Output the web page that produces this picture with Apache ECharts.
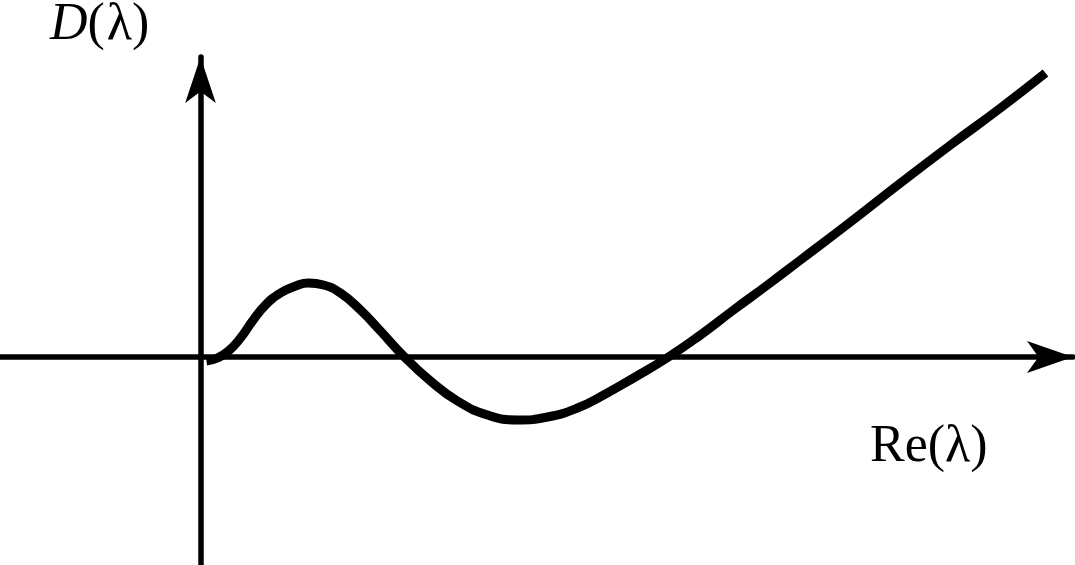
<!DOCTYPE html>
<html>
<head>
<meta charset="utf-8">
<script src="https://cdn.jsdelivr.net/npm/echarts@6/dist/echarts.min.js"></script>
<style>
html,body{margin:0;padding:0;background:#fff;}
#c{width:1075px;height:565px;}
</style>
</head>
<body>
<div id="c"></div>
<script>
// Curve D(λ) sampled along Re(λ)
const reLambda = [0.06,0.17,0.28,0.40,0.52,0.65,0.80,0.95,1.08,1.23,1.40,1.60,1.80,2.04,2.30,2.57,2.87,3.17,3.47,3.77,4.05,4.33,4.68,5.00,5.33,5.67,6.00,6.50,7.00,7.50,8.00,8.45];
const dLambda  = [-0.04,-0.01,0.06,0.19,0.36,0.52,0.64,0.71,0.74,0.72,0.64,0.47,0.26,0.00,-0.24,-0.44,-0.58,-0.63,-0.60,-0.51,-0.37,-0.21,0.00,0.22,0.47,0.72,0.97,1.35,1.74,2.12,2.49,2.84];
const yAxisLabel = 'D(λ)';
const xAxisLabel = 'Re(λ)';

const chart = echarts.init(document.getElementById('c'), null, {renderer: 'canvas'});
const axisLineStyle = {color: '#000', width: 5.5};
chart.setOption({
  animation: false,
  backgroundColor: '#fff',
  grid: {left: 0, right: 2, top: 57, bottom: 0, containLabel: false},
  xAxis: {
    type: 'value', min: -2.005, max: 8.725,
    axisLine: {show: true, onZero: true, symbol: ['none', 'arrow'], symbolSize: [24, 46], lineStyle: axisLineStyle},
    axisTick: {show: false}, axisLabel: {show: false}, splitLine: {show: false}
  },
  yAxis: {
    type: 'value', min: -2.08, max: 3.00,
    axisLine: {show: true, onZero: true, symbol: ['none', 'arrow'], symbolSize: [23, 46], lineStyle: axisLineStyle},
    axisTick: {show: false}, axisLabel: {show: false}, splitLine: {show: false}
  },
  series: [{
    type: 'line',
    data: reLambda.map((x, i) => [x, dLambda[i]]),
    showSymbol: false, symbol: 'none',
    smooth: 0.5,
    clip: false,
    lineStyle: {color: '#000', width: 9, cap: 'butt'}
  }],
  graphic: [
    {
      type: 'text', left: 50, top: -1,
      style: {
        text: '{i|D}(' + '{l|λ})',
        font: '52px "Liberation Serif"', fill: '#000',
        rich: {
          i: {fontStyle: 'italic', fontFamily: 'Liberation Serif', fontSize: 52},
          l: {fontFamily: 'Liberation Serif', fontSize: 52, padding: [0, 0, 0, 2]}
        }
      }
    },
    {
      type: 'text', left: 870, top: 421,
      style: {
        text: 'Re(λ)',
        font: '52px "Liberation Serif"', fill: '#000'
      }
    }
  ]
});
</script>
</body>
</html>
